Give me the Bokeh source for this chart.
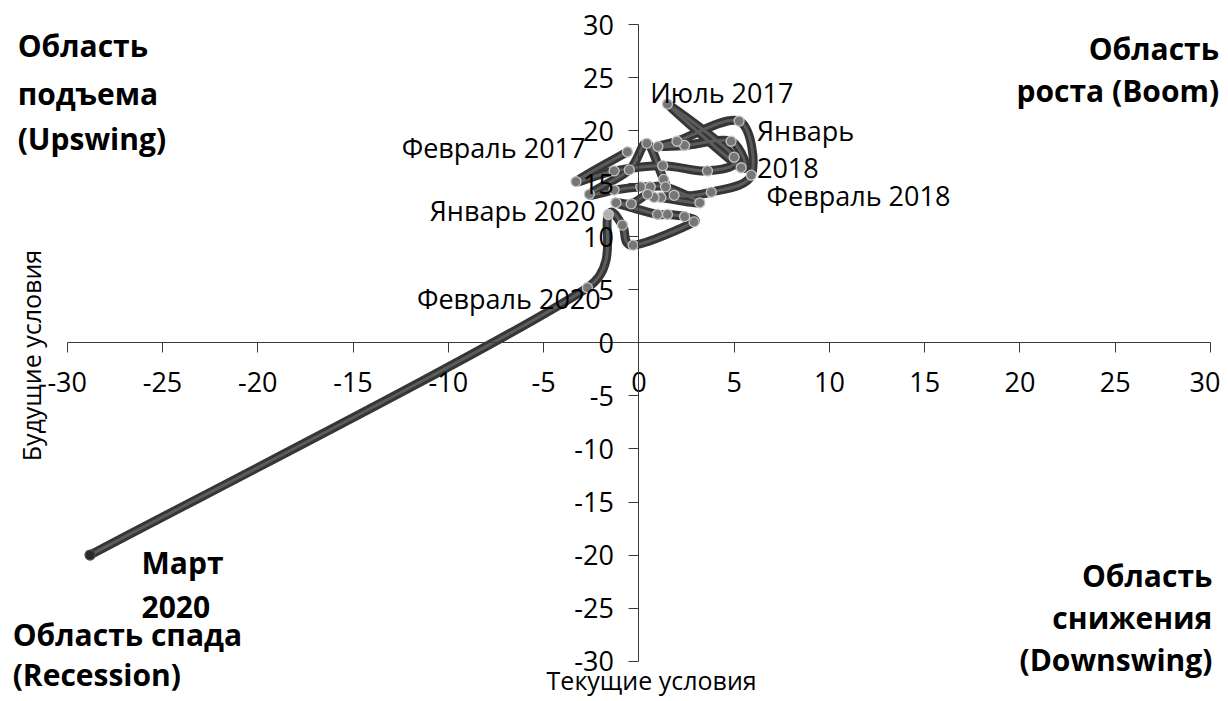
import numpy as np
from bokeh.plotting import figure
from bokeh.models import Label, Range1d, FixedTicker
from bokeh.embed import file_html
from bokeh.resources import INLINE

# ---------------- data ----------------
months = ["Январь 2017", "Февраль 2017", "Март 2017", "Апрель 2017", "Май 2017", "Июнь 2017",
          "Июль 2017", "Август 2017", "Сентябрь 2017", "Октябрь 2017", "Ноябрь 2017", "Декабрь 2017",
          "Январь 2018", "Февраль 2018", "Март 2018", "Апрель 2018", "Май 2018", "Июнь 2018",
          "Июль 2018", "Август 2018", "Сентябрь 2018", "Октябрь 2018", "Ноябрь 2018", "Декабрь 2018",
          "Январь 2019", "Февраль 2019", "Март 2019", "Апрель 2019", "Май 2019", "Июнь 2019",
          "Июль 2019", "Август 2019", "Сентябрь 2019", "Октябрь 2019", "Ноябрь 2019", "Декабрь 2019",
          "Январь 2020", "Февраль 2020", "Март 2020"]
current = [-0.6, -3.3, -1.3, 1.25, 3.6, 5.0,
           1.5, 5.37, 4.84, 2.4, 1.0, 2.0,
           5.26, 5.9, 3.8, 1.85, 1.3, 0.42,
           -0.5, -2.6, -1.3, 0.1, 0.6, 1.4,
           3.2, 1.16, 0.8, 0.46, -0.4, -1.2,
           0.98, 1.5, 2.4, 2.9, -0.3, -0.86,
           -1.6, -2.7, -28.8]
future = [18.0, 15.2, 16.2, 16.7, 16.2, 17.5,
          22.5, 16.5, 19.0, 18.6, 18.5, 19.0,
          20.9, 15.8, 14.2, 13.9, 15.4, 18.8,
          16.3, 14.0, 14.4, 14.7, 14.7, 14.7,
          13.2, 13.7, 13.7, 14.0, 13.1, 13.2,
          12.1, 12.1, 11.9, 11.4, 9.2, 11.1,
          12.1, 5.2, -20.0]
axis_ticks = [-30, -25, -20, -15, -10, -5, 0, 5, 10, 15, 20, 25, 30]
x_title = "Текущие условия"
y_title = "Будущие условия"

# ---------------- figure (frame covers the whole canvas so texts may sit outside the axes) ----------------
W, H = 1220, 701
ux = 1143.3 / 60.0      # px per unit, x
uy = 636.7 / 60.0       # px per unit, y
x0_px, y0_px = 66.7, 24.0   # canvas position of (-30, 30)
x_rng = Range1d(-30 - x0_px / ux, 30 + (W - x0_px - 60 * ux) / ux)
y_rng = Range1d(-30 - (H - y0_px - 60 * uy) / uy, 30 + y0_px / uy)

p = figure(frame_width=W, frame_height=H,
           min_border_left=0, min_border_right=0, min_border_top=0, min_border_bottom=0,
           x_range=x_rng, y_range=y_rng,
           output_backend="svg", toolbar_location=None,
           background_fill_color="white", border_fill_color="white")
p.outline_line_color = None
p.xgrid.visible = False
p.ygrid.visible = False

FONT = "Open Sans"
for ax in (p.xaxis, p.yaxis):
    ax.fixed_location = 0
    ax.bounds = (axis_ticks[0], axis_ticks[-1])
    ax.ticker = FixedTicker(ticks=axis_ticks, minor_ticks=[])
    ax.major_label_overrides = {t: str(t) for t in axis_ticks}
    ax.axis_line_color = "#3a3a3a"
    ax.axis_line_width = 1
    ax.major_tick_line_color = "#3a3a3a"
    ax.major_tick_in = 0
    ax.major_tick_out = 10
    ax.minor_tick_line_color = None
    ax.major_label_text_font = FONT
    ax.major_label_text_font_size = "27px"
    ax.major_label_text_color = "#000000"
p.xaxis.major_label_standoff = 19
p.yaxis.major_label_standoff = 15

# ---------------- smoothed line (Excel-like bezier through the points) ----------------
P = np.column_stack([np.array(current) * ux, np.array(future) * uy])
Pm = np.vstack([P[0], P, P[-1]])
segs = {k: [] for k in ("x0", "y0", "x1", "y1", "cx0", "cy0", "cx1", "cy1")}
for i in range(len(P) - 1):
    p0, p1, p2, p3 = Pm[i], Pm[i + 1], Pm[i + 2], Pm[i + 3]
    seg_len = np.linalg.norm(p2 - p1)
    a1 = (p2 - p0) / 6.0
    a2 = (p3 - p1) / 6.0
    for a in (a1, a2):
        L = np.linalg.norm(a)
        if L > seg_len / 2 and L > 0:
            a *= (seg_len / 2) / L
    c1 = p1 + a1
    c2 = p2 - a2
    segs["x0"].append(p1[0] / ux); segs["y0"].append(p1[1] / uy)
    segs["x1"].append(p2[0] / ux); segs["y1"].append(p2[1] / uy)
    segs["cx0"].append(c1[0] / ux); segs["cy0"].append(c1[1] / uy)
    segs["cx1"].append(c2[0] / ux); segs["cy1"].append(c2[1] / uy)

p.bezier(line_color="#363636", line_width=9, line_cap="round", **segs)
p.bezier(line_color="#5c5c5c", line_width=3, line_cap="round", **segs)

# markers
n = len(current)
fills = ["#767676"] * n
lines = ["#c4c4c4"] * n
fills[36] = "#b0b0b0"
fills[38] = "#2a2a2a"; lines[38] = "#4a4a4a"
p.scatter(current, future, size=10, fill_color=fills, line_color=lines, line_width=1.3)

# ---------------- texts ----------------
def lab(text, x, y, align="left", bold=False, size="27px", angle=0.0):
    p.add_layout(Label(x=x, y=y, text=text, text_font=FONT, text_font_size=size,
                       text_font_style="bold" if bold else "normal", text_color="#000000",
                       text_align=align, text_baseline="middle", angle=angle))

# point labels
lab("Июль 2017", 0.6, 23.6)
lab("Январь", 6.2, 20.0)
lab("2018", 6.2, 16.5)
lab("Февраль 2018", 6.7, 13.9)
lab("Февраль 2017", -2.8, 18.4, align="right")
lab("Январь 2020", -2.27, 12.5, align="right")
lab("Февраль 2020", -2.0, 4.2, align="right")

# region labels
B = "30px"
lab("Область", -32.6, 28.0, bold=True, size=B)
lab("подъема", -32.6, 23.5, bold=True, size=B)
lab("(Upswing)", -32.6, 19.25, bold=True, size=B)
lab("Область", 30.45, 27.74, align="right", bold=True, size=B)
lab("роста (Boom)", 30.45, 23.78, align="right", bold=True, size=B)
lab("Область", 30.1, -21.9, align="right", bold=True, size=B)
lab("снижения", 30.1, -25.9, align="right", bold=True, size=B)
lab("(Downswing)", 30.1, -29.8, align="right", bold=True, size=B)
lab("Область спада", -32.86, -27.5, bold=True, size=B)
lab("(Recession)", -32.86, -31.3, bold=True, size=B)
lab("Март", -26.1, -20.7, bold=True, size=B)
lab("2020", -26.1, -24.85, bold=True, size=B)

# axis titles
lab(x_title, 0.67, -31.75, align="center", size="25px")
lab(y_title, -31.9, -1.2, align="center", size="25px", angle=np.pi / 2)

open("out.html", "w").write(file_html(p, INLINE))
